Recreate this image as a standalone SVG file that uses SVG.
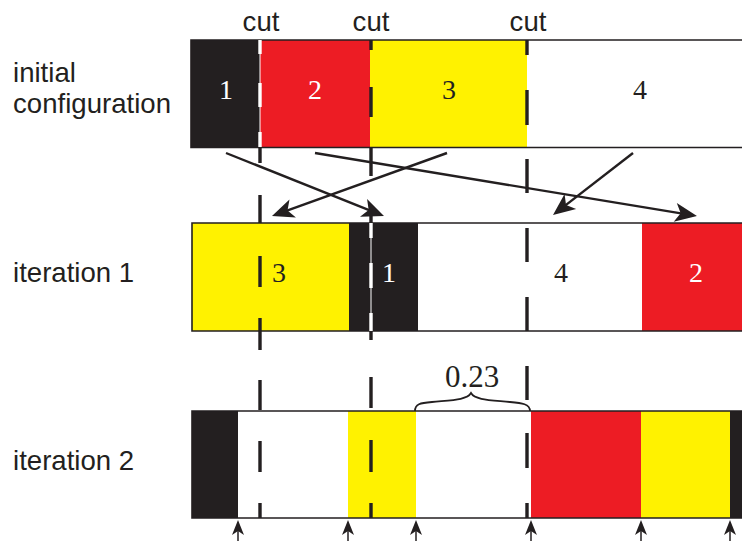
<svg xmlns="http://www.w3.org/2000/svg" width="742" height="541" viewBox="0 0 742 541">
<style>
.lbl{font-family:"Liberation Sans",Arial,sans-serif;font-size:27.6px;fill:#231f20}
.num{font-family:"Liberation Serif","Times New Roman",serif;font-size:28px;text-anchor:middle}
.dk{fill:#231f20}.wt{fill:#ffffff}
.blk{fill:#231f20}.red{fill:#ed1c24}.yel{fill:#fff200}.wht{fill:#ffffff}
.frame{fill:none;stroke:#231f20;stroke-width:1.6}
.cut{fill:none;stroke:#231f20;stroke-width:3.4}
.cutw{fill:none;stroke:#ffffff;stroke-width:3.4}
.thinw{fill:none;stroke:#ffffff;stroke-width:1}
.arr{fill:none;stroke:#231f20;stroke-width:2.4}
.sarr{fill:none;stroke:#231f20;stroke-width:1.5}
</style>
<defs>
<marker id="head" markerUnits="userSpaceOnUse" viewBox="-14 -11 26 22" markerWidth="26" markerHeight="22" refX="0" refY="0" orient="auto" overflow="visible">
<path d="M10,0 L-12,-9.5 L-6.5,0 L-12,9.5 Z" fill="#231f20"/>
</marker>
<marker id="shead" markerUnits="userSpaceOnUse" viewBox="-10 -8 20 16" markerWidth="20" markerHeight="16" refX="0" refY="0" orient="auto" overflow="visible">
<path d="M5,0 L-10,-6 L-6,0 L-10,6 Z" fill="#231f20"/>
</marker>
</defs>

<g id="labels">
<g id="label-initial"><text class="lbl" x="13" y="82">initial</text><text class="lbl" x="13" y="113">configuration</text></g>
<g id="label-iter1"><text class="lbl" x="13" y="282">iteration 1</text></g>
<g id="label-iter2"><text class="lbl" x="13" y="470">iteration 2</text></g>
<g id="label-cuts">
<text class="lbl" x="261" y="31" text-anchor="middle">cut</text>
<text class="lbl" x="371" y="31" text-anchor="middle">cut</text>
<text class="lbl" x="528" y="31" text-anchor="middle">cut</text>
</g>
</g>

<g id="bar-initial">
<rect class="blk" x="191" y="40" width="69" height="107"/>
<rect class="red" x="260" y="40" width="110" height="107"/>
<rect class="yel" x="370" y="40" width="157" height="107"/>
<rect class="wht" x="527" y="40" width="215" height="107"/>
<path class="frame" d="M742,40 H191 V147.5 H742"/>
<text class="num wt" x="226" y="99">1</text>
<text class="num wt" x="315" y="99">2</text>
<text class="num dk" x="449" y="99">3</text>
<text class="num dk" x="640" y="99">4</text>
</g>

<g id="bar-iter1">
<rect class="yel" x="192" y="223" width="157" height="108"/>
<rect class="blk" x="349" y="223" width="69" height="108"/>
<rect class="wht" x="418" y="223" width="224" height="108"/>
<rect class="red" x="642" y="223" width="100" height="108"/>
<path class="frame" d="M742,223 H192 V331 H742"/>
<text class="num dk" x="279" y="282">3</text>
<text class="num wt" x="389" y="282">1</text>
<text class="num dk" x="561" y="282">4</text>
<text class="num wt" x="696" y="282">2</text>
</g>

<g id="bar-iter2">
<rect class="blk" x="192" y="411" width="46" height="107"/>
<rect class="wht" x="238" y="411" width="110" height="107"/>
<rect class="yel" x="348" y="411" width="68" height="107"/>
<rect class="wht" x="416" y="411" width="115" height="107"/>
<rect class="red" x="531" y="411" width="110" height="107"/>
<rect class="yel" x="641" y="411" width="89" height="107"/>
<rect class="blk" x="730" y="411" width="12" height="107"/>
<path class="frame" d="M742,411 H192 V518 H742"/>
</g>

<g id="cut-lines">
<path class="thinw" d="M260,40 V147"/>
<path class="cutw" d="M260,40 V54 M260,83 V107 M260,132 V147"/>
<path class="cut" d="M260,147 V163 M260,195 V223 M260,256 V287 M260,318 V350 M260,380 V410 M260,441 V472 M260,503 V518"/>
<path class="cut" d="M371,40 V50 M371,87 V117 M371,147 V176 M371,205 V223 M371,331 V340 M371,377 V408 M371,440 V472 M371,503 V518"/>
<path class="thinw" d="M371,223 V331"/>
<path class="cutw" d="M371,223 V238 M371,263 V288 M371,313 V331"/>
<path class="cut" d="M527,40 V55 M527,90 V125 M527,159 V193 M527,228 V262 M527,297 V331 M527,366 V400 M527,433 V468 M527,503 V518"/>
</g>

<g id="connectors">
<line class="arr" x1="226" y1="153" x2="374.7" y2="212.3" marker-end="url(#head)"/>
<line class="arr" x1="447" y1="153" x2="281.4" y2="212.6" marker-end="url(#head)"/>
<line class="arr" x1="315" y1="153" x2="687.1" y2="214.4" marker-end="url(#head)"/>
<line class="arr" x1="633" y1="153" x2="560.9" y2="208.9" marker-end="url(#head)"/>
<line class="sarr" x1="238" y1="541" x2="238" y2="525" marker-end="url(#shead)"/>
<line class="sarr" x1="348" y1="541" x2="348" y2="525" marker-end="url(#shead)"/>
<line class="sarr" x1="416" y1="541" x2="416" y2="525" marker-end="url(#shead)"/>
<line class="sarr" x1="531" y1="541" x2="531" y2="525" marker-end="url(#shead)"/>
<line class="sarr" x1="641" y1="541" x2="641" y2="525" marker-end="url(#shead)"/>
<line class="sarr" x1="730" y1="541" x2="730" y2="525" marker-end="url(#shead)"/>
</g>

<g id="brace">
<path d="M415,411 C415,404 420,403 432,402 C452,400 467,400 471,393 C475,400 490,400 510,402 C522,403 530,404 530,411" fill="none" stroke="#231f20" stroke-width="1.8"/>
<text x="472" y="387" style="font-family:'Liberation Serif','Times New Roman',serif;font-size:31px;fill:#231f20" text-anchor="middle">0.23</text>
</g>
</svg>
